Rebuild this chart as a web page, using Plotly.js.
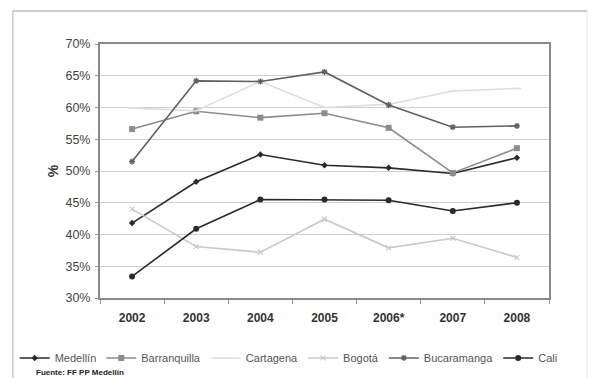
<!DOCTYPE html>
<html>
<head>
<meta charset="utf-8">
<script src="https://cdn.plot.ly/plotly-3.0.1.min.js"></script>
<style>
  html, body { margin: 0; padding: 0; background: #ffffff; }
  #chart { width: 589px; height: 378px; }
</style>
</head>
<body>
<div id="chart"></div>
<script>
// Years on the category axis
const years = ['2002', '2003', '2004', '2005', '2006*', '2007', '2008'];

// Share (%) per city and year
const medellin     = [41.8, 48.3, 52.6, 50.9, 50.5, 49.6, 52.1];
const barranquilla = [56.6, 59.4, 58.4, 59.1, 56.8, 49.7, 53.6];
const cartagena    = [59.9, 59.5, 64.1, 60.0, 60.5, 62.6, 63.0];
const bogota       = [44.0, 38.1, 37.2, 42.4, 37.9, 39.4, 36.4];
const bucaramanga  = [51.5, 64.2, 64.1, 65.6, 60.4, 56.9, 57.1];
const cali         = [33.4, 40.9, 45.5, 45.5, 45.4, 43.7, 45.0];

const seriesNames = ['Medellín', 'Barranquilla', 'Cartagena', 'Bogotá', 'Bucaramanga', 'Cali'];
const seriesValues = [medellin, barranquilla, cartagena, bogota, bucaramanga, cali];

// Line / marker look for each city
const styles = [
  { color: '#2a2a2a', width: 1.6, symbol: 'diamond',       size: 5, mline: 0 },
  { color: '#8c8c8c', width: 1.6, symbol: 'square',        size: 6, mline: 0 },
  { color: '#dedede', width: 1.6, symbol: 'line-ew-open',  size: 6, mline: 1.5 },
  { color: '#c9c9c9', width: 1.6, symbol: 'x-thin-open',   size: 5, mline: 1.2 },
  { color: '#606060', width: 1.6, symbol: 'asterisk-open', size: 5, mline: 1.3 },
  { color: '#2a2a2a', width: 1.6, symbol: 'circle',        size: 6, mline: 0 }
];

const traces = seriesNames.map((name, i) => {
  const s = styles[i];
  return {
    type: 'scatter',
    mode: 'lines+markers',
    name: name,
    x: years,
    y: seriesValues[i],
    line: { color: s.color, width: s.width },
    marker: {
      symbol: s.symbol,
      size: s.size,
      color: s.color,
      line: { color: s.color, width: s.mline }
    },
    hoverinfo: 'x+y+name'
  };
});

const font = 'Liberation Sans, Arial, sans-serif';

const layout = {
  width: 589,
  height: 378,
  margin: { l: 100, r: 40, t: 44, b: 80, autoexpand: false },
  paper_bgcolor: '#ffffff',
  plot_bgcolor: '#ffffff',
  font: { family: font, color: '#444444', size: 12 },
  showlegend: true,
  legend: {
    orientation: 'h',
    x: -0.19,
    xanchor: 'left',
    y: -0.236,
    yanchor: 'middle',
    font: { family: font, size: 11, color: '#555555' },
    bgcolor: 'rgba(0,0,0,0)',
    tracegroupgap: 0
  },
  xaxis: {
    type: 'category',
    categoryorder: 'array',
    categoryarray: years,
    range: [-0.5, 6.5],
    showgrid: false,
    zeroline: false,
    showline: true,
    linecolor: '#8a8a8a',
    linewidth: 2,
    mirror: true,
    ticks: 'outside',
    tickson: 'boundaries',
    ticklen: 4,
    tickcolor: '#999999',
    ticklabelstandoff: 8,
    tickfont: { family: font, size: 12, color: '#333333', weight: 'bold' },
    fixedrange: true
  },
  yaxis: {
    range: [30, 70],
    dtick: 5,
    tick0: 30,
    ticksuffix: '%',
    showgrid: true,
    gridcolor: '#cfcfcf',
    gridwidth: 1,
    zeroline: false,
    showline: true,
    linecolor: '#8a8a8a',
    linewidth: 2,
    mirror: true,
    ticks: 'outside',
    ticklen: 3,
    tickcolor: '#999999',
    ticklabelstandoff: 2,
    tickfont: { family: font, size: 12.5, color: '#444444' },
    title: { text: '%', font: { family: font, size: 14, color: '#333333', weight: 'bold' }, standoff: 4 },
    fixedrange: true
  },
  shapes: [
    // outer frame around the whole figure
    { type: 'line', xref: 'paper', yref: 'paper', x0: -0.194, x1: 1.085, y0: 1.13, y1: 1.13,
      line: { color: '#9a9a9a', width: 1 } },
    { type: 'line', xref: 'paper', yref: 'paper', x0: -0.194, x1: -0.194, y0: 1.13, y1: -0.32,
      line: { color: '#b0b0b0', width: 1 } },
    { type: 'line', xref: 'paper', yref: 'paper', x0: 1.085, x1: 1.085, y0: 1.13, y1: -0.32,
      line: { color: '#ececec', width: 1 } }
  ],
  annotations: [
    {
      text: 'Fuente: FF PP Medellín',
      xref: 'paper', yref: 'paper',
      x: -0.147, y: -0.295,
      xanchor: 'left', yanchor: 'middle',
      showarrow: false,
      font: { family: font, size: 8, color: '#222222', weight: 'bold' }
    }
  ]
};

Plotly.newPlot('chart', traces, layout, { displayModeBar: false, staticPlot: true });
</script>
</body>
</html>
